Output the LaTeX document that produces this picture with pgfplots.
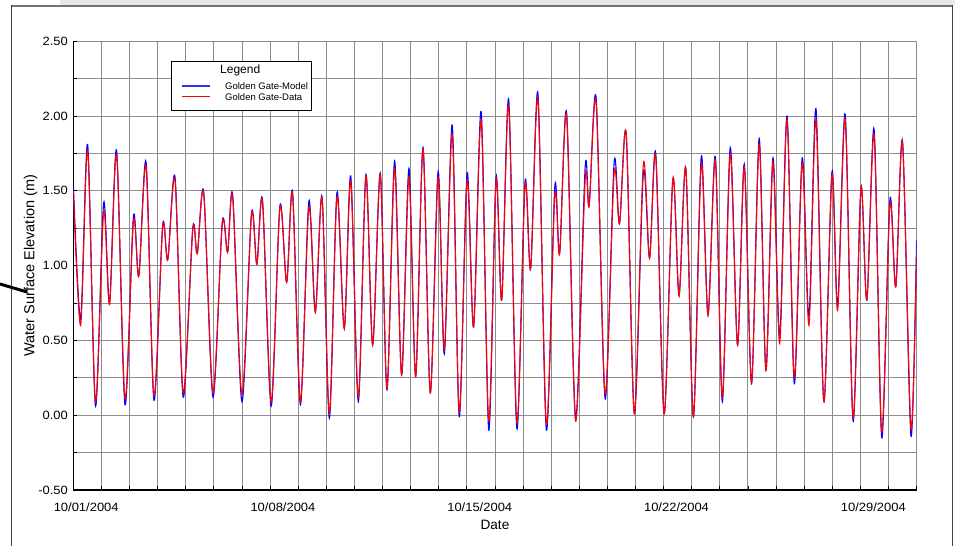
\documentclass[border=0pt]{standalone}
\usepackage{fontspec}
\setmainfont{Liberation Sans}
\newfontfamily\tickfont{Liberation Sans}[FakeStretch=1.08]
\usepackage{pgfplots}
\pgfplotsset{compat=1.18}
\usepackage{pgfplotstable}

\definecolor{gridgray}{RGB}{140,140,140}
\definecolor{framegray}{RGB}{115,115,115}
\definecolor{bandgray}{RGB}{230,232,232}
\definecolor{modelblue}{RGB}{0,0,255}
\definecolor{legendblue}{RGB}{50,50,255}
\definecolor{datared}{RGB}{255,0,0}

% day since 10/01/2004, model (blue), data (red)
\pgfplotstableread{
day model data
0.00 1.55 1.50
0.26 0.64 0.60
0.51 1.81 1.77
0.79 0.06 0.09
1.08 1.42 1.36
1.29 0.75 0.74
1.54 1.77 1.74
1.84 0.07 0.11
2.14 1.33 1.30
2.33 0.93 0.93
2.59 1.69 1.66
2.87 0.10 0.13
3.18 1.27 1.26
3.36 1.04 1.04
3.62 1.59 1.57
3.91 0.12 0.15
4.25 1.25 1.24
4.41 1.08 1.08
4.64 1.49 1.48
4.97 0.12 0.15
5.30 1.29 1.28
5.49 1.09 1.09
5.67 1.47 1.46
6.00 0.09 0.14
6.34 1.35 1.34
6.53 1.01 1.01
6.73 1.44 1.43
7.04 0.06 0.09
7.35 1.40 1.39
7.59 0.89 0.89
7.80 1.49 1.48
8.08 0.07 0.09
8.38 1.43 1.39
8.61 0.69 0.69
8.85 1.46 1.45
9.11 -0.02 0.01
9.38 1.49 1.46
9.64 0.58 0.58
9.87 1.60 1.57
10.14 0.09 0.12
10.41 1.61 1.60
10.65 0.47 0.47
10.92 1.62 1.61
11.16 0.17 0.18
11.43 1.70 1.65
11.68 0.27 0.27
11.94 1.65 1.59
12.18 0.26 0.26
12.44 1.79 1.78
12.70 0.15 0.15
12.98 1.63 1.59
13.20 0.41 0.44
13.48 1.94 1.88
13.73 -0.01 0.02
14.01 1.62 1.57
14.24 0.59 0.59
14.51 2.03 1.97
14.78 -0.10 -0.04
15.04 1.59 1.57
15.24 0.77 0.77
15.49 2.11 2.07
15.78 -0.09 -0.05
16.07 1.56 1.54
16.27 0.98 0.98
16.53 2.15 2.11
16.83 -0.10 -0.06
17.13 1.53 1.47
17.30 1.08 1.08
17.55 2.02 2.00
17.87 -0.02 -0.04
18.21 1.66 1.58
18.35 1.40 1.40
18.60 2.12 2.09
18.92 0.11 0.14
19.24 1.69 1.62
19.43 1.28 1.28
19.67 1.88 1.88
19.96 0.01 0.01
20.28 1.62 1.68
20.50 1.05 1.05
20.72 1.75 1.73
21.02 0.01 0.01
21.33 1.58 1.58
21.55 0.80 0.80
21.79 1.65 1.65
22.06 -0.01 -0.01
22.34 1.73 1.68
22.58 0.67 0.67
22.84 1.73 1.71
23.09 0.09 0.12
23.37 1.79 1.75
23.63 0.47 0.47
23.87 1.68 1.66
24.13 0.21 0.22
24.40 1.85 1.81
24.64 0.30 0.30
24.89 1.72 1.69
25.13 0.53 0.48
25.39 2.00 1.98
25.65 0.21 0.25
25.93 1.72 1.69
26.17 0.66 0.60
26.42 2.05 1.98
26.70 0.09 0.09
26.99 1.63 1.61
27.19 0.73 0.70
27.46 2.01 1.98
27.74 -0.04 -0.02
28.02 1.52 1.52
28.23 0.77 0.77
28.49 1.91 1.87
28.76 -0.15 -0.11
29.05 1.44 1.41
29.26 0.86 0.86
29.50 1.83 1.82
29.80 -0.14 -0.09
30.00 1.17 1.08
}\tides

\begin{document}
\begin{tikzpicture}[x=1pt,y=1pt]
\begin{axis}[
    at={(73.3pt,56pt)}, anchor=south west,
    scale only axis, width=843.3pt, height=448.7pt,
    xmin=0, xmax=30, ymin=-0.5, ymax=2.5,
    axis x line*=bottom, axis y line*=left,
    axis line style={black, line width=1.6pt, -},
    xtick={0,7,14,21,28},
    xticklabels={\mbox{10/01/2004},\mbox{10/08/2004},\mbox{10/15/2004},\mbox{10/22/2004},\mbox{10/29/2004}},
    minor xtick={0,1,...,30},
    ytick={-0.5,0,0.5,1,1.5,2,2.5},
    yticklabels={\mbox{-0.50},\mbox{0.00},\mbox{0.50},\mbox{1.00},\mbox{1.50},\mbox{2.00},\mbox{2.50}},
    minor ytick={-0.25,0.25,0.75,1.25,1.75,2.25},
    grid=both,
    major grid style={gridgray, line width=0.9pt},
    minor grid style={gridgray, line width=0.9pt},
    tick align=inside,
    major tick length=4pt, minor tick length=4pt,
    tick style={black, line width=0.8pt},
    ticklabel style={font=\tickfont\fontsize{12}{12}\selectfont},
    xticklabel style={inner sep=0pt, anchor=north, yshift=-13pt, xshift=12.9pt},
    yticklabel style={inner sep=0pt, anchor=east, xshift=-5.3pt},
    xlabel={Date},
    xlabel style={at={(axis description cs:0.5,0)}, anchor=north, yshift=-30pt, inner sep=0pt, font=\fontsize{13.6}{13.6}\selectfont},
    ylabel={Water Surface Elevation (m)},
    ylabel style={at={(axis description cs:-0.0505,0.5)}, anchor=center, inner sep=0pt, font=\fontsize{14.5}{14.5}\selectfont},
    legend style={at={(0.1277,0.9134)}, anchor=north west, draw=none, fill=none,
        inner xsep=0pt, inner ysep=0pt, row sep=0pt, column sep=14pt,
        nodes={inner sep=0pt, text depth=, font=\fontsize{9.5}{9.5}\selectfont}},
    legend cell align=left,
]
\draw[black, line width=0.9pt, fill=white] (rel axis cs:0.1159,0.8469) rectangle (rel axis cs:0.2819,0.9561);
\node[anchor=base west, inner sep=0pt, font=\fontsize{12}{12}\selectfont] at (rel axis cs:0.174,0.9287) {Legend};
\addplot[modelblue, line width=1.1pt, smooth,
    legend image code/.code={\draw[legendblue, line width=2pt] (0pt,0pt) -- (28pt,0pt);}]
    table[x=day, y=model] {\tides};
\addlegendentry{Golden Gate-Model\rule[-1.55pt]{0pt}{10.7pt}}
\addplot[datared, line width=1.1pt, smooth,
    legend image code/.code={\draw[datared, line width=1.4pt] (0pt,0pt) -- (28pt,0pt);}]
    table[x=day, y=data] {\tides};
\addlegendentry{Golden Gate-Data\rule[-1.55pt]{0pt}{10.7pt}}
\end{axis}
% page frame
\fill[bandgray] (60,541) rectangle (955,546);
\draw[framegray, line width=1.7pt] (11,540.3) -- (952.7,540.3);
\draw[black!75, line width=1pt] (11,541) -- (11,0);
\draw[black!75, line width=1pt] (952.7,541) -- (952.7,0);
\draw[black, line width=3pt] (0,262) -- (27,254);
\pgfresetboundingbox
\useasboundingbox (0,0) rectangle (955,546);
\end{tikzpicture}
\end{document}
